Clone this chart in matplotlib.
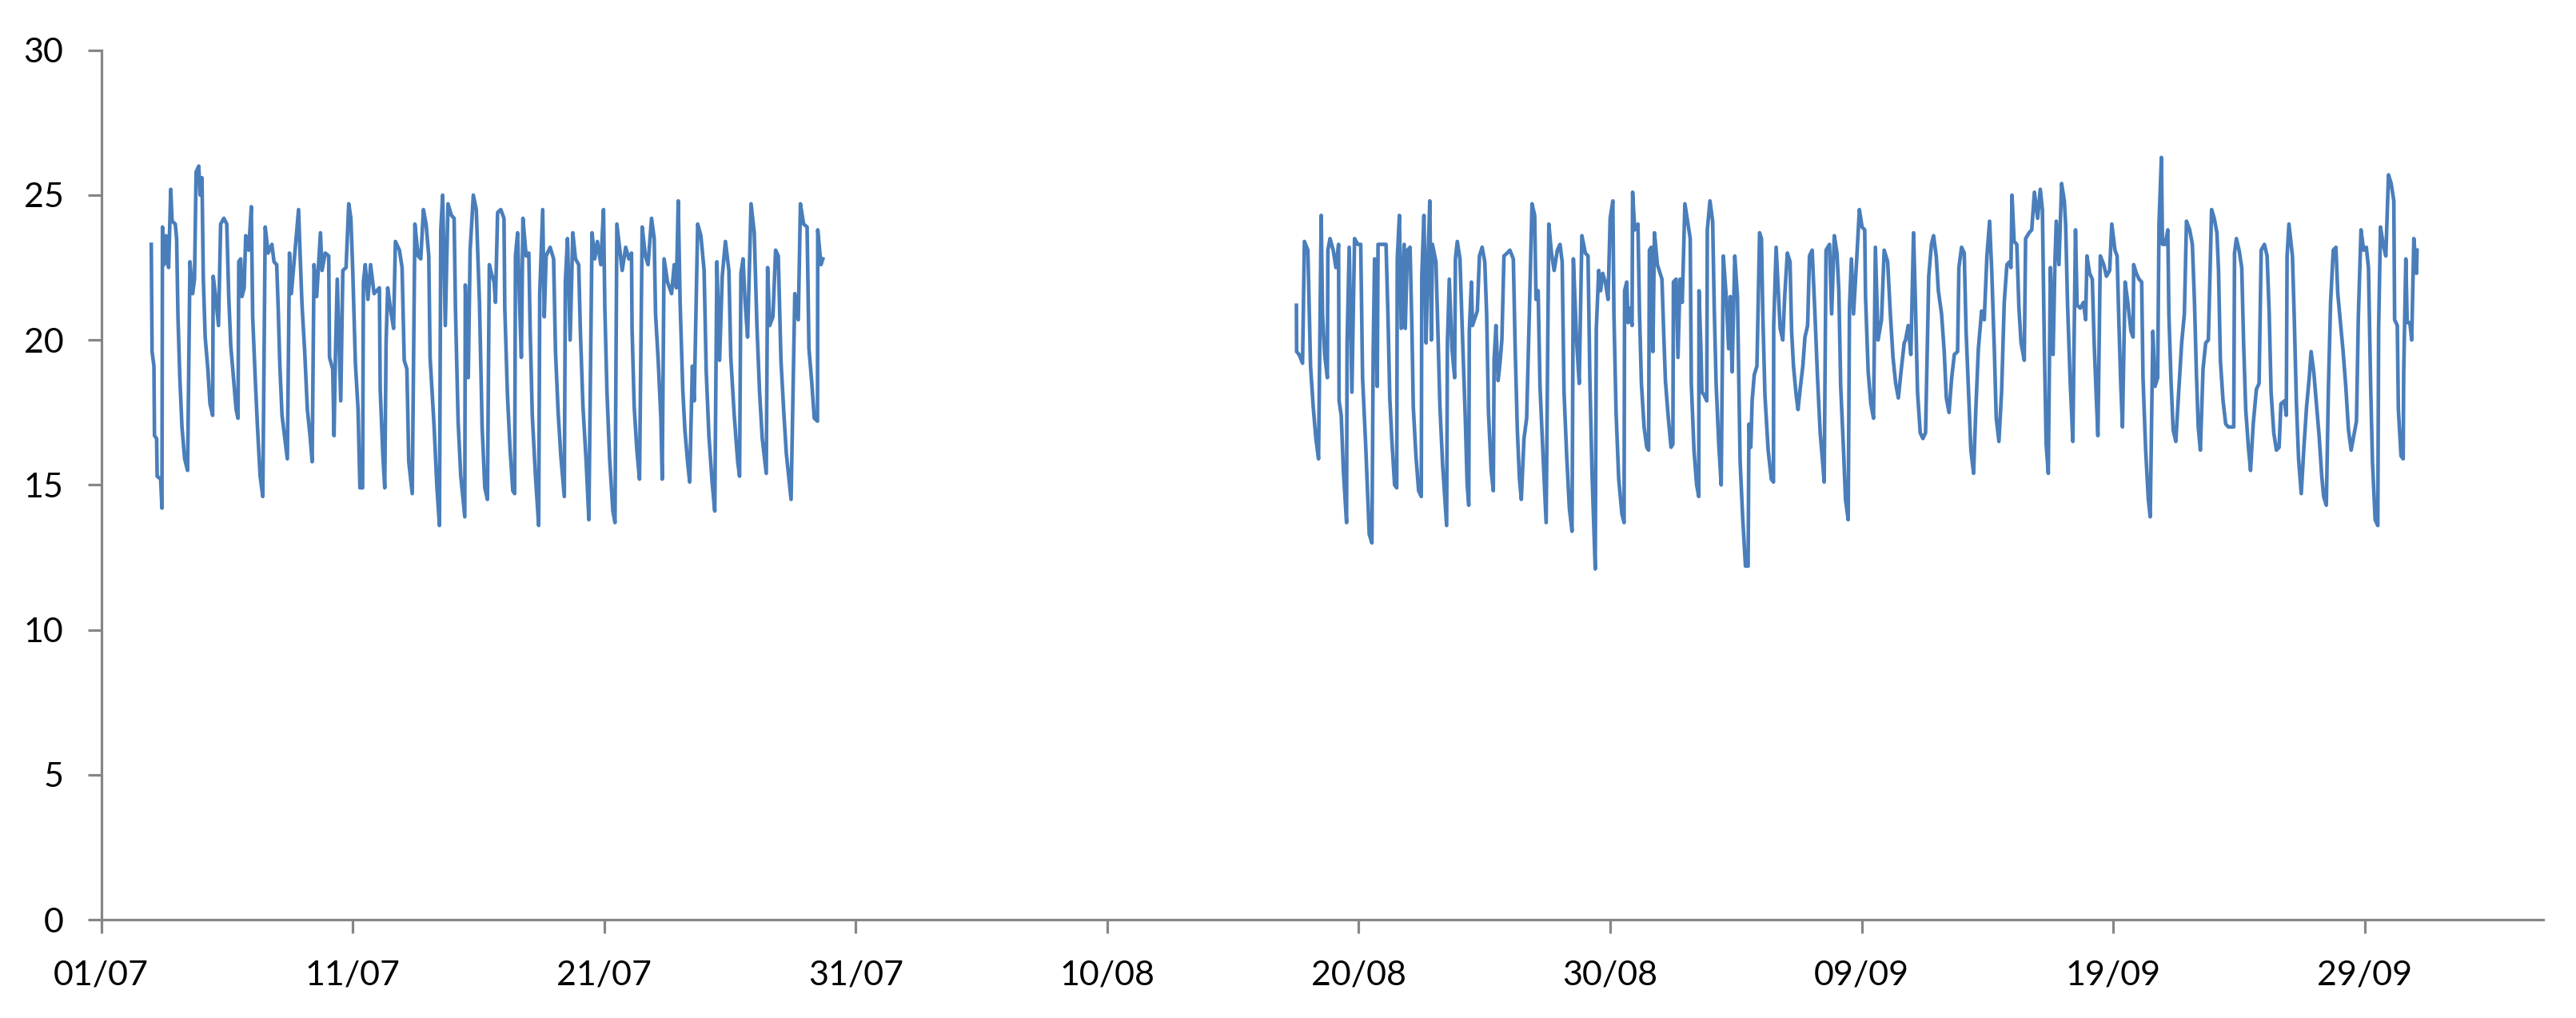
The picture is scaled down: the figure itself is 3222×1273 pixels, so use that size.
import matplotlib
matplotlib.use("Agg")
import matplotlib.pyplot as plt


# time in days since 01/07, temperature values
seg1_days = [
    1.990, 2.021, 2.096, 2.117, 2.202, 2.223, 2.361, 2.414, 2.435, 2.499, 2.573, 2.679, 2.764, 2.817, 2.945,
    2.998, 3.051, 3.125, 3.210, 3.316, 3.433, 3.528, 3.634, 3.709, 3.772, 3.878, 3.931, 4.006,
    4.059, 4.133, 4.239, 4.324, 4.430, 4.451, 4.536, 4.663, 4.748, 4.875, 4.992,
    5.066, 5.151, 5.257, 5.363, 5.438, 5.469, 5.544, 5.597, 5.682, 5.745, 5.862, 5.968,
    6.021, 6.127, 6.212, 6.318, 6.424, 6.520, 6.637, 6.785, 6.870, 6.976,
    7.029, 7.103, 7.188, 7.315, 7.400, 7.485, 7.559, 7.697, 7.846, 7.910, 7.984,
    8.090, 8.196, 8.302, 8.387, 8.461, 8.567, 8.716, 8.780, 8.907, 9.045,
    9.077, 9.204, 9.257, 9.310, 9.385, 9.523, 9.607, 9.735, 9.841, 9.926, 10.000,
    10.106, 10.212, 10.286, 10.392, 10.424, 10.498, 10.604, 10.710, 10.848, 11.060,
    11.092, 11.199, 11.273, 11.326, 11.390, 11.496, 11.623, 11.697, 11.856, 11.962,
    12.047, 12.153, 12.228, 12.366, 12.472, 12.599, 12.705, 12.811, 12.917, 13.023,
    13.076, 13.236, 13.342, 13.448, 13.501, 13.575, 13.681, 13.787, 13.925, 14.031,
    14.084, 14.190, 14.296, 14.455, 14.476, 14.593, 14.668, 14.795, 14.912, 15.039,
    15.145, 15.251, 15.356, 15.431, 15.515, 15.622, 15.675, 15.760, 15.887, 16.014,
    16.046, 16.152, 16.258, 16.364, 16.438, 16.470, 16.555, 16.629, 16.704, 16.767, 16.895, 17.001,
    17.054, 17.139, 17.266, 17.393, 17.436, 17.553, 17.616, 17.690, 17.849, 17.987,
    18.062, 18.168, 18.274, 18.412, 18.454, 18.539, 18.645, 18.751, 18.857, 18.985,
    19.048, 19.154, 19.282, 19.388, 19.473, 19.515, 19.621, 19.727, 19.865, 19.971,
    20.024, 20.109, 20.215, 20.343, 20.428, 20.502, 20.608, 20.714, 20.852, 20.979,
    21.085, 21.106, 21.191, 21.297, 21.403, 21.509, 21.637, 21.743, 21.881, 21.987,
    22.040, 22.146, 22.252, 22.305, 22.379, 22.517, 22.677, 22.783, 22.868, 22.942,
    23.017, 23.122, 23.207, 23.313, 23.398, 23.504, 23.578, 23.716, 23.843, 23.971,
    24.056, 24.162, 24.289, 24.395, 24.480, 24.586, 24.692, 24.819, 24.957,
    25.032, 25.169, 25.307, 25.381, 25.435, 25.520, 25.594, 25.700, 25.838, 25.965,
    26.071, 26.177, 26.283, 26.443, 26.496, 26.580, 26.708, 26.814, 26.920,
    27.027, 27.133, 27.239, 27.429, 27.578, 27.716, 27.801, 27.928,
    28.066, 28.140, 28.246, 28.352, 28.479, 28.490, 28.565, 28.618, 28.692,
]
seg1_temp = [
    23.3, 19.6, 19.1, 16.7, 16.6, 15.3, 15.2, 14.2, 23.9, 22.6, 23.6, 22.5, 25.2, 24.1, 24.0,
    23.5, 20.8, 18.7, 17.0, 15.9, 15.5, 22.7, 21.6, 22.1, 25.8, 26.0, 25.0, 25.6,
    22.1, 20.1, 19.0, 17.8, 17.4, 22.2, 21.6, 20.5, 24.0, 24.2, 24.0,
    21.6, 19.8, 18.7, 17.6, 17.3, 22.7, 22.8, 21.5, 21.8, 23.6, 23.1, 24.6,
    20.8, 18.6, 17.0, 15.3, 14.6, 23.9, 23.0, 23.3, 22.7, 22.6,
    21.3, 19.1, 17.4, 16.5, 15.9, 23.0, 21.6, 23.0, 24.5, 22.9, 21.2,
    19.6, 17.6, 16.7, 15.8, 22.6, 21.5, 23.7, 22.4, 23.0, 22.9,
    19.4, 19.0, 16.7, 19.4, 22.1, 17.9, 22.4, 22.5, 24.7, 24.2, 22.4,
    19.2, 17.6, 14.9, 14.9, 22.0, 22.6, 21.4, 22.6, 21.6, 21.8,
    18.3, 16.0, 14.9, 19.9, 21.8, 21.1, 20.4, 23.4, 23.1, 22.5,
    19.3, 19.0, 15.8, 14.7, 24.0, 22.9, 22.8, 24.5, 24.0, 22.9,
    19.4, 17.0, 15.0, 13.6, 23.8, 25.0, 20.5, 24.7, 24.3, 24.2,
    21.1, 17.2, 15.3, 13.9, 21.9, 18.7, 23.1, 25.0, 24.5, 21.3,
    17.0, 14.9, 14.5, 22.6, 22.3, 22.0, 21.3, 24.4, 24.5, 24.2,
    21.1, 18.1, 16.2, 14.8, 14.7, 22.9, 23.7, 21.4, 19.4, 24.2, 22.9, 23.0,
    20.4, 17.4, 15.3, 13.6, 21.6, 24.5, 20.8, 22.9, 23.2, 22.8,
    19.6, 17.5, 16.0, 14.6, 22.0, 23.5, 20.0, 23.7, 22.8, 22.6,
    20.4, 17.7, 15.8, 13.8, 20.4, 23.7, 22.8, 23.4, 22.6, 24.5,
    21.1, 18.2, 15.9, 14.1, 13.7, 24.0, 23.2, 22.4, 23.2, 22.8,
    23.0, 20.4, 17.7, 16.2, 15.2, 23.9, 22.9, 22.6, 24.2, 23.5,
    20.9, 19.3, 17.3, 15.2, 22.8, 22.0, 21.6, 22.6, 21.8, 24.8,
    21.3, 18.3, 16.9, 15.8, 15.1, 19.1, 17.9, 24.0, 23.6, 22.4,
    18.9, 16.7, 15.1, 14.1, 22.7, 19.3, 22.2, 23.4, 22.4,
    19.4, 17.4, 15.8, 15.3, 22.3, 22.8, 21.4, 20.1, 24.7, 23.7,
    20.5, 18.2, 16.6, 15.4, 22.5, 20.5, 20.8, 23.1, 22.9,
    19.3, 17.6, 16.1, 14.5, 21.6, 20.7, 24.7, 24.0,
    23.9, 19.7, 18.6, 17.3, 17.2, 23.8, 23.1, 22.6, 22.8,
]

seg2_days = [
    47.522, 47.530, 47.628, 47.766, 47.840, 47.978, 48.084, 48.190, 48.296, 48.402, 48.508, 48.561,
    48.646, 48.752, 48.774, 48.858, 48.986, 49.092, 49.198, 49.219, 49.304, 49.389, 49.516, 49.537,
    49.622, 49.728, 49.835, 49.962, 50.079, 50.153, 50.280, 50.418, 50.524, 50.577, 50.630, 50.736,
    50.768, 50.948, 51.086, 51.161, 51.235, 51.320, 51.426, 51.511, 51.532, 51.617, 51.691, 51.808,
    51.850, 51.935, 52.041, 52.115, 52.169, 52.275, 52.381, 52.487, 52.508, 52.593, 52.678, 52.752,
    52.826, 52.890, 52.932, 53.070, 53.145, 53.229, 53.335, 53.495, 53.526, 53.601, 53.707, 53.813,
    53.845, 53.919, 54.025, 54.131, 54.237, 54.312, 54.375, 54.397, 54.481, 54.524, 54.715, 54.800,
    54.906, 55.012, 55.086, 55.160, 55.267, 55.351, 55.383, 55.457, 55.542, 55.616, 55.691, 55.775,
    55.903, 56.009, 56.147, 56.221, 56.306, 56.391, 56.465, 56.571, 56.677, 56.783, 56.890, 56.996,
    57.049, 57.134, 57.208, 57.314, 57.452, 57.558, 57.664, 57.770, 57.898, 58.004, 58.089, 58.163,
    58.269, 58.375, 58.481, 58.534, 58.661, 58.767, 58.873, 59.011, 59.117, 59.192, 59.276,
    59.404, 59.447, 59.542, 59.617, 59.701, 59.807, 59.914, 59.998, 60.104, 60.147, 60.232, 60.338,
    60.465, 60.550, 60.571, 60.656, 60.709, 60.762, 60.868, 60.890, 60.974, 61.102, 61.165, 61.240,
    61.346, 61.452, 61.526, 61.558, 61.632, 61.696, 61.759, 61.876, 62.057, 62.120, 62.194, 62.301,
    62.417, 62.491, 62.513, 62.619, 62.693, 62.778, 62.863, 62.969, 63.075, 63.181, 63.224, 63.330,
    63.436, 63.521, 63.530, 63.606, 63.648, 63.733, 63.839, 63.860, 63.966, 64.072, 64.136, 64.210,
    64.316, 64.412, 64.497, 64.603, 64.709, 64.772, 64.847, 64.953, 65.059, 65.112, 65.165, 65.271,
    65.377, 65.483, 65.515, 65.589, 65.642, 65.727, 65.833, 65.939, 66.014, 66.067, 66.151, 66.279,
    66.406, 66.491, 66.500, 66.597, 66.682, 66.756, 66.862, 66.937, 67.043, 67.149, 67.212, 67.287,
    67.393, 67.467, 67.552, 67.658, 67.743, 67.849, 67.923, 68.029, 68.135, 68.242, 68.348, 68.454,
    68.507, 68.581, 68.719, 68.804, 68.910, 69.016, 69.090, 69.164, 69.271, 69.355, 69.461, 69.514,
    69.589, 69.674, 69.801, 69.907, 70.013, 70.119, 70.151, 70.257, 70.363, 70.469, 70.543, 70.650,
    70.787, 70.893, 71.031, 71.138, 71.244, 71.350, 71.456, 71.562, 71.689,
    71.742, 71.848, 71.954, 72.060, 72.135, 72.219, 72.326, 72.432, 72.538, 72.591, 72.665, 72.771,
    72.856, 72.962, 73.047, 73.174, 73.280, 73.365, 73.471, 73.577, 73.683, 73.811, 73.864, 73.970,
    74.076, 74.150, 74.256, 74.341, 74.447, 74.532, 74.638, 74.766, 74.872, 74.978, 75.084, 75.169,
    75.275, 75.349, 75.455, 75.561, 75.667, 75.773, 75.880, 75.933, 75.975, 76.060, 76.166, 76.251,
    76.336, 76.463, 76.516, 76.654, 76.760, 76.866, 76.994, 77.100, 77.184, 77.259, 77.333, 77.418,
    77.503, 77.609, 77.683, 77.736, 77.842, 77.948, 78.055, 78.108, 78.182, 78.288, 78.394, 78.500,
    78.564, 78.691, 78.818, 78.903, 78.956, 79.062, 79.168, 79.242, 79.328, 79.391, 79.487, 79.625,
    79.730, 79.858, 79.943, 80.070, 80.155, 80.229, 80.303, 80.367, 80.473, 80.579, 80.706, 80.791,
    80.813, 80.919, 81.025, 81.131, 81.184, 81.290, 81.396, 81.471, 81.577, 81.662, 81.768, 81.820,
    81.916, 81.958, 82.065, 82.171, 82.213, 82.298, 82.383, 82.489, 82.595, 82.722, 82.829, 82.913,
    83.041, 83.147, 83.231, 83.306, 83.380, 83.465, 83.571, 83.677, 83.783, 83.911, 84.017, 84.123,
    84.187, 84.261, 84.367, 84.473, 84.579, 84.792, 84.823, 84.898, 85.004, 85.110, 85.184, 85.269,
    85.375, 85.460, 85.566, 85.693, 85.799, 85.884, 86.012, 86.118, 86.203, 86.277, 86.383, 86.489,
    86.595, 86.669, 86.807, 86.881, 86.913, 86.987, 87.126, 87.200, 87.285, 87.370, 87.476, 87.582,
    87.688, 87.794, 87.868, 87.974, 88.080, 88.186, 88.292, 88.367, 88.473, 88.558, 88.643, 88.749,
    88.855, 88.929, 89.035, 89.141, 89.247, 89.354, 89.460, 89.566, 89.672, 89.746, 89.852, 89.958,
    90.064, 90.149, 90.234, 90.308, 90.414, 90.520, 90.553, 90.627, 90.733, 90.839, 90.945, 91.051,
    91.157, 91.189, 91.295, 91.338, 91.444, 91.529, 91.550, 91.635, 91.688, 91.794, 91.868, 91.953,
    92.059, 92.080,
]
seg2_temp = [
    21.2, 19.6, 19.5, 19.2, 23.4, 23.1, 19.1, 17.7, 16.6, 15.9, 24.3, 20.9,
    19.5, 18.7, 23.1, 23.5, 23.1, 22.5, 23.3, 17.9, 17.4, 15.5, 13.7, 19.9,
    23.2, 18.2, 23.5, 23.3, 23.3, 18.7, 16.3, 13.3, 13.0, 19.7, 22.8, 18.4,
    23.3, 23.3, 23.3, 20.9, 18.0, 16.5, 15.0, 14.9, 22.8, 24.3, 20.4, 23.3,
    20.4, 23.1, 23.2, 20.4, 17.7, 16.0, 14.8, 14.6, 22.2, 24.3, 19.9, 22.7,
    24.8, 20.0, 23.3, 22.7, 20.4, 17.7, 15.7, 13.6, 19.9, 22.1, 19.7, 18.7,
    22.8, 23.4, 22.8, 20.0, 17.3, 15.0, 14.3, 20.3, 22.0, 20.5, 21.0, 22.9,
    23.2, 22.7, 20.9, 17.5, 15.5, 14.8, 19.3, 20.5, 18.6, 19.2, 20.0, 22.9,
    23.0, 23.1, 22.8, 19.7, 16.9, 15.2, 14.5, 16.6, 17.3, 20.9, 24.7, 24.3,
    21.4, 21.7, 18.4, 16.3, 13.7, 24.0, 23.0, 22.4, 23.1, 23.3, 22.7, 18.2,
    16.0, 14.2, 13.4, 22.8, 20.0, 18.5, 23.6, 23.0, 22.9, 18.6, 15.4,
    12.1, 20.4, 22.4, 21.7, 22.3, 22.0, 21.4, 24.2, 24.8, 20.9, 17.5, 15.2,
    14.0, 13.7, 21.7, 22.0, 20.6, 21.1, 20.5, 25.1, 23.8, 24.0, 20.9, 18.5,
    17.0, 16.3, 16.2, 23.1, 23.2, 19.6, 23.7, 22.6, 22.1, 20.4, 18.6, 17.4,
    16.3, 16.4, 22.0, 22.1, 19.4, 22.1, 21.3, 24.7, 24.1, 23.5, 18.5, 16.2,
    15.0, 14.6, 21.7, 19.7, 18.2, 18.1, 17.9, 23.8, 24.8, 24.1, 21.1, 18.5,
    16.4, 15.0, 22.9, 21.6, 19.7, 21.5, 18.9, 22.9, 21.5, 18.7, 15.8, 13.8,
    12.2, 12.2, 17.1, 16.3, 17.9, 18.8, 19.1, 23.7, 23.5, 20.9, 18.1, 16.2,
    15.2, 15.1, 20.5, 23.2, 21.7, 20.4, 20.0, 21.5, 23.0, 22.7, 20.3, 19.1,
    18.1, 17.6, 18.3, 19.1, 20.1, 20.5, 22.9, 23.1, 21.0, 18.7, 16.8, 15.7,
    15.1, 23.1, 23.3, 20.9, 23.6, 23.0, 21.7, 18.4, 16.3, 14.5, 13.8, 21.1,
    22.8, 20.9, 22.8, 24.5, 23.9, 23.8, 21.5, 18.9, 17.8, 17.3, 23.2, 20.0,
    20.7, 23.1, 22.7, 20.9, 19.4, 18.5, 18.0, 18.9, 19.9,
    20.0, 20.5, 19.5, 23.7, 21.3, 18.2, 16.8, 16.6, 16.8, 19.1, 22.2, 23.3,
    23.6, 22.9, 21.7, 20.9, 19.6, 18.0, 17.5, 18.7, 19.5, 19.6, 22.5, 23.2,
    23.0, 20.3, 18.0, 16.2, 15.4, 17.5, 19.7, 21.0, 20.7, 22.9, 24.1, 22.4,
    19.6, 17.3, 16.5, 18.2, 21.3, 22.6, 22.7, 22.5, 25.0, 23.4, 23.3, 21.1,
    19.9, 19.3, 23.5, 23.7, 23.8, 25.1, 24.2, 25.2, 24.5, 19.9, 16.4, 15.4,
    22.5, 19.5, 22.7, 24.1, 22.6, 25.4, 24.8, 24.0, 21.3, 18.6, 16.5, 23.8,
    21.2, 21.1, 21.3, 20.7, 22.9, 22.3, 22.1, 19.9, 18.0, 16.7, 22.9, 22.6,
    22.2, 22.4, 24.0, 23.1, 22.9, 20.5, 18.4, 17.0, 22.0, 21.3, 20.3, 20.1,
    22.6, 22.3, 22.1, 22.0, 18.7, 16.2, 14.5, 13.9, 20.3, 18.4, 18.7, 24.0,
    26.3, 23.3, 23.3, 23.8, 20.9, 18.6, 16.9, 16.5, 18.1, 19.9, 20.9, 24.1,
    23.8, 23.3, 21.3, 18.9, 17.0, 16.2, 19.0, 19.9, 20.0, 24.5, 24.2, 23.7,
    22.4, 19.3, 17.9, 17.1, 17.0, 17.0, 23.0, 23.5, 23.1, 22.5, 19.9, 17.6,
    16.3, 15.5, 17.1, 18.3, 18.5, 23.1, 23.3, 22.9, 20.9, 18.2, 16.8, 16.2,
    16.3, 17.8, 17.9, 17.4, 22.9, 24.0, 22.9, 20.7, 17.8, 15.9, 14.7, 16.3,
    17.7, 18.7, 19.6, 18.9, 17.8, 16.7, 15.3, 14.6, 14.3, 18.4, 21.3, 23.1,
    23.2, 21.6, 20.6, 19.6, 18.4, 16.9, 16.2, 16.7, 17.2, 20.8, 23.8, 23.1,
    23.2, 22.5, 18.5, 15.8, 13.8, 13.6, 20.4, 23.9, 23.3, 22.9, 25.7, 25.4,
    24.8, 20.7, 20.5, 17.6, 16.0, 15.9, 18.9, 22.8, 20.6, 20.6, 20.0, 23.5,
    22.3, 23.1,
]

tick_days = [0, 10, 20, 30, 40, 50, 60, 70, 80, 90]
tick_labels = ["01/07", "11/07", "21/07", "31/07", "10/08", "20/08", "30/08", "09/09", "19/09", "29/09"]
y_ticks = [0, 5, 10, 15, 20, 25, 30]

plt.rcParams['font.family'] = ['Lato', 'DejaVu Sans']

fig = plt.figure(figsize=(32.22, 12.73), dpi=100)
ax = fig.add_axes([0.0393, 0.0966, 0.9480, 0.8541])

line_color = '#4A7EBB'
ax.plot(seg1_days, seg1_temp, color=line_color, linewidth=3.3)
ax.plot(seg2_days, seg2_temp, color=line_color, linewidth=3.3)

ax.set_xlim(0, 97.1)
ax.set_ylim(0, 30)
ax.set_xticks(tick_days)
ax.set_xticklabels(tick_labels)
ax.set_yticks(y_ticks)

axis_gray = '#868686'
for side in ['top', 'right']:
    ax.spines[side].set_visible(False)
for side in ['left', 'bottom']:
    ax.spines[side].set_color(axis_gray)
    ax.spines[side].set_linewidth(2.3)

ax.tick_params(axis='both', direction='out', length=12, width=2.3, color=axis_gray,
               labelsize=31, labelcolor='black')
ax.tick_params(axis='x', pad=24)
ax.tick_params(axis='y', pad=22)

fig.savefig("out.png", dpi=100, facecolor='white')
